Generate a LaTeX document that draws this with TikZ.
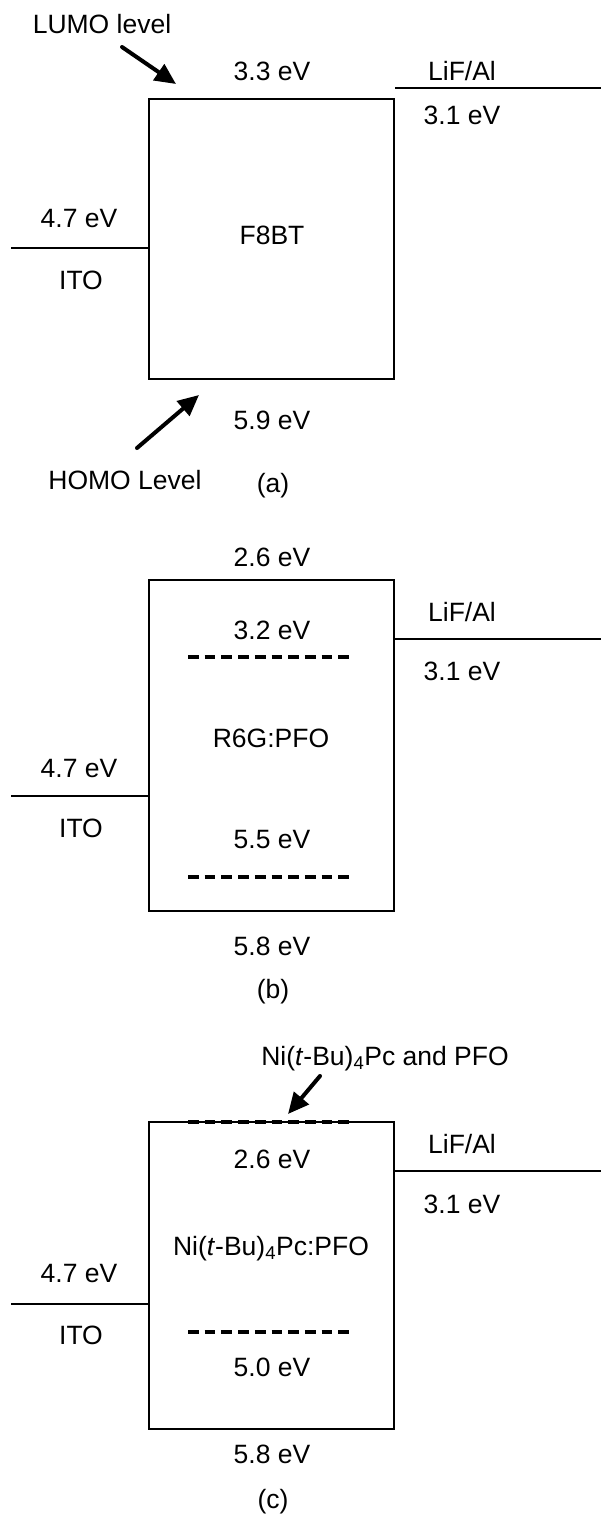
\documentclass[tikz,border=0pt]{standalone}
\usepackage{fontspec}
\setmainfont{Liberation Sans}
\usetikzlibrary{arrows.meta}
\begin{document}
\begin{tikzpicture}[x=1pt,y=-1pt,
  every node/.style={inner sep=0pt,font=\fontsize{26.5}{30}\selectfont},
  lbl/.style={anchor=base},
  bandbox/.style={draw,line width=2pt,minimum width=245pt,inner sep=0pt},
  lvl/.style={line width=1.5pt},
  dopant/.style={line width=3.5pt,dash pattern=on 10.7pt off 6pt},
  pointer/.style={line width=4pt,line cap=round,-{Triangle[length=21pt,width=19pt]}}]
\useasboundingbox (0,0) rectangle (601,1535);
% ---------- (a)
\node[bandbox,minimum height=280pt] (boxa) at (271.5,238.5) {};
\coordinate (itoa) at (11,248);
\coordinate (lifa) at (601,88);
\draw[lvl] (itoa) -- (itoa -| boxa.west);
\draw[lvl] (lifa) -- (lifa -| boxa.east);
\node[lbl] (lumo) at (102,33) {LUMO level};
\node[lbl] (la33) at (272,80) {3.3 eV};
\node[lbl] (lifla) at (462,80) {LiF/Al};
\node[lbl] (la31) at (462,124) {3.1 eV};
\node[lbl] (la47) at (79,227) {4.7 eV};
\node[lbl] (itola) at (81,289) {ITO};
\node[lbl] (f8bt) at (272,244) {F8BT};
\node[lbl] (la59) at (272,429) {5.9 eV};
\node[lbl] (homo) at (125,489) {HOMO Level};
\node[lbl] (capa) at (273,492) {(a)};
\coordinate (lumoS) at (122,47);
\coordinate (lumoT) at (176,84);
\coordinate (homoS) at (137,448);
\coordinate (homoT) at (199,395);
\draw[pointer] (lumoS) -- (lumoT);
\draw[pointer] (homoS) -- (homoT);
% ---------- (b)
\node[bandbox,minimum height=331pt] (boxb) at (271.5,745.5) {};
\coordinate (itob) at (11,796);
\coordinate (lifb) at (601,639);
\draw[lvl] (itob) -- (itob -| boxb.west);
\draw[lvl] (lifb) -- (lifb -| boxb.east);
\coordinate (db1a) at (188,657); \coordinate (db1b) at (350,657);
\coordinate (db2a) at (188,877); \coordinate (db2b) at (350,877);
\draw[dopant] (db1a) -- (db1b);
\draw[dopant] (db2a) -- (db2b);
\node[lbl] (lb26) at (272,566) {2.6 eV};
\node[lbl] (lb32) at (272,639) {3.2 eV};
\node[lbl] (liflb) at (462,621) {LiF/Al};
\node[lbl] (lb31) at (462,680) {3.1 eV};
\node[lbl] (r6g) at (271,747) {R6G:PFO};
\node[lbl] (lb47) at (79,777) {4.7 eV};
\node[lbl] (itolb) at (81,837) {ITO};
\node[lbl] (lb55) at (272,848) {5.5 eV};
\node[lbl] (lb58) at (272,955) {5.8 eV};
\node[lbl] (capb) at (273,998) {(b)};
% ---------- (c)
\node[bandbox,minimum height=307pt] (boxc) at (271.5,1275.5) {};
\coordinate (itoc) at (11,1304);
\coordinate (lifc) at (601,1171);
\draw[lvl] (itoc) -- (itoc -| boxc.west);
\draw[lvl] (lifc) -- (lifc -| boxc.east);
\coordinate (dc1a) at (188,1122); \coordinate (dc1b) at (350,1122);
\coordinate (dc2a) at (188,1332); \coordinate (dc2b) at (350,1332);
\draw[dopant] (dc1a) -- (dc1b);
\draw[dopant] (dc2a) -- (dc2b);
\node[lbl] (nipfo) at (385,1065) {Ni(\textit{t}-Bu)\textsubscript{4}Pc and PFO};
\coordinate (niS) at (320,1076);
\coordinate (niT) at (288,1114);
\draw[pointer] (niS) -- (niT);
\node[lbl] (lc26) at (272,1168) {2.6 eV};
\node[lbl] (liflc) at (462,1153) {LiF/Al};
\node[lbl] (lc31) at (462,1213) {3.1 eV};
\node[lbl] (nimix) at (271,1255) {Ni(\textit{t}-Bu)\textsubscript{4}Pc:PFO};
\node[lbl] (lc47) at (79,1282) {4.7 eV};
\node[lbl] (itolc) at (81,1344) {ITO};
\node[lbl] (lc50) at (272,1376) {5.0 eV};
\node[lbl] (lc58) at (272,1463) {5.8 eV};
\node[lbl] (capc) at (273,1508) {(c)};
\end{tikzpicture}
\end{document}
